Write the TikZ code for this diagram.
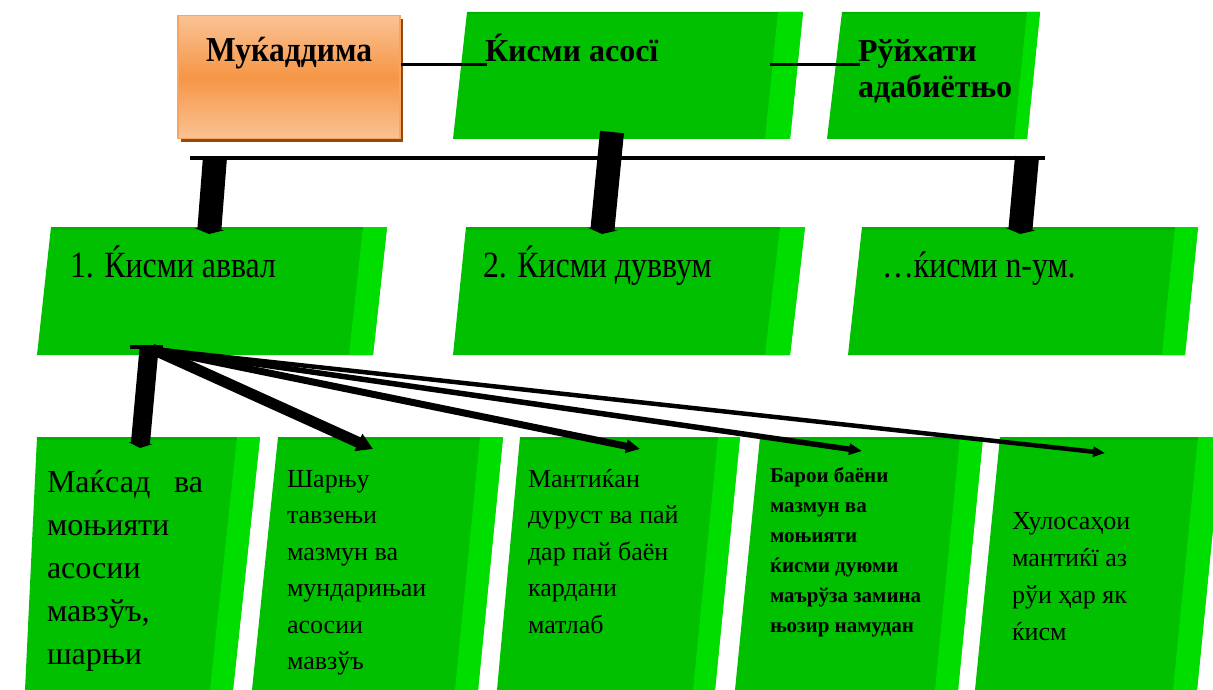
\documentclass[tikz,border=0pt]{standalone}
\usepackage{fontspec}
\setmainfont{Liberation Serif}
\newfontfamily\condfont[FakeStretch=0.86]{Liberation Serif}
\newfontfamily\condfontb[FakeStretch=0.9]{Liberation Serif}
\usetikzlibrary{arrows.meta}
\definecolor{boxgreen}{RGB}{0,192,0}
\definecolor{stripgreen}{RGB}{0,222,0}
\definecolor{topgreen}{RGB}{0,176,0}
\definecolor{orL}{RGB}{250,194,148}
\definecolor{orM}{RGB}{246,150,70}
\definecolor{orShadow}{RGB}{152,72,7}
\definecolor{orBorder}{RGB}{247,165,100}
\newcommand{\greenbox}[7]{%
  \fill[boxgreen] (#1,#5) -- (#2,#5) -- (#4,#6) -- (#3,#6) -- cycle;
  \fill[stripgreen] (#2-#7,#5) -- (#2,#5) -- (#4,#6) -- (#4-#7,#6) -- cycle;
  \fill[topgreen] (#1,#5) -- (#2-#7,#5) -- (#2-#7,#5+2.5) -- (#1,#5+2.5) -- cycle;
}
\begin{document}
\begin{tikzpicture}[x=1pt,y=-1pt,
  lbl/.style={inner sep=0pt, outer sep=0pt, anchor=base west, align=left},
  topfont/.style={font=\bfseries\fontsize{32}{36}\selectfont},
  midfont/.style={font=\condfont\fontsize{37}{40}\selectfont},
  hline/.style={line width=3pt},
  barline/.style={line width=4pt},
  drop/.style={line width=24pt, -{Triangle[length=5pt,width=30pt]}},
  fanA/.style={line width=19pt, -{Triangle[length=5pt,width=24pt]}},
  fanB/.style={line width=11pt, -{Triangle[length=16pt,width=18pt]}},
  fanC/.style={line width=7pt, -{Triangle[length=14pt,width=13pt]}},
  fanD/.style={line width=5.5pt, -{Triangle[length=13pt,width=11pt]}},
  fanE/.style={line width=4.5pt, -{Triangle[length=12pt,width=10pt]}}]
\useasboundingbox (0,0) rectangle (1213,690);
\begin{scope}
\clip (0,0) rectangle (1213,690);
% top row
\greenbox{467}{803}{453}{790}{12}{139}{25}
\greenbox{842}{1040}{827}{1027}{12}{139}{13}
% middle row
\greenbox{51}{387}{37}{373}{227}{355}{24}
\greenbox{466}{805}{453}{790}{227}{355}{25}
\greenbox{862}{1198}{848}{1185}{227}{355}{23}
% bottom row
\greenbox{37}{260}{25}{233}{437}{690}{23}
\greenbox{278}{503}{252}{478}{437}{690}{23}
\greenbox{520}{740}{497}{715}{437}{690}{22}
\greenbox{760}{983}{735}{958}{437}{690}{23}
\greenbox{1000}{1222}{975}{1197}{437}{690}{24}
\end{scope}
% orange box
\fill[orShadow] (181,19) rectangle (403,142);
\node[draw=orBorder, line width=1.5pt, shading=axis, top color=orL, bottom color=orL, middle color=orM,
  minimum width=222pt, minimum height=123pt, inner sep=0pt, anchor=north west] (muk) at (177,15) {};
% coordinates for connectors
\coordinate (c1b) at (487,65);
\coordinate (c2a) at (770,65);
\coordinate (c2b) at (860,65);
\coordinate (barL) at (190,158);
\coordinate (barR) at (1045,158);
\coordinate (d1a) at (215,157); \coordinate (d1b) at (209,234);
\coordinate (d2a) at (612,132); \coordinate (d2b) at (602,234);
\coordinate (d3a) at (1027,157); \coordinate (d3b) at (1020,234);
\coordinate (fo) at (152,349);
\coordinate (foL) at (130,347); \coordinate (foR) at (163,347);
\coordinate (fA1) at (149,349); \coordinate (fA) at (140,448);
\coordinate (fB) at (373,449);
\coordinate (fC) at (640,449);
\coordinate (fD) at (862,451);
\coordinate (fE) at (1105,453);
% connectors
\draw[hline] (muk.east |- c1b) -- (c1b);
\draw[hline] (c2a) -- (c2b);
\draw[barline] (barL) -- (barR);
\draw[drop] (d1a) -- (d1b);
\draw[drop] (d2a) -- (d2b);
\draw[drop] (d3a) -- (d3b);
\draw[line width=4pt] (foL) -- (foR);
\draw[fanA] (fA1) -- (fA);
\draw[fanB] (fo) -- (fB);
\draw[fanC] (fo) -- (fC);
\draw[fanD] (fo) -- (fD);
\draw[fanE] (fo) -- (fE);
% texts
\node[font=\condfontb\bfseries\fontsize{35}{38}\selectfont, inner sep=0pt, anchor=base] (mukt) at (289,62) {Муќаддима};
\node[lbl, topfont] (kasos) at (485,62) {Ќисми асосї};
\node[lbl, topfont] (ruy) at (858,98) {Рўйхати\\адабиётњо};
\node[lbl, midfont] (k1) at (70,277) {1. Ќисми аввал};
\node[lbl, midfont] (k2) at (483,277) {2. Ќисми дуввум};
\node[lbl, midfont] (kn) at (882,277) {…ќисми n-ум.};
\node[lbl, font=\fontsize{32}{43}\selectfont] (ta) at (47,664)
  {\makebox[156pt][s]{Маќсад ва}\\моњияти\\асосии\\мавзўъ,\\шарњи};
\node[lbl, font=\fontsize{26}{36.5}\selectfont] (tb) at (287,669.5)
  {Шарњу\\тавзењи\\мазмун ва\\мундарињаи\\асосии\\мавзўъ};
\node[lbl, font=\fontsize{26}{36.5}\selectfont] (tc) at (528,633)
  {Мантиќан\\дуруст ва пай\\дар пай баён\\кардани\\матлаб};
\node[lbl, font=\bfseries\fontsize{21}{30}\selectfont] (td) at (770,632)
  {Барои баёни\\мазмун ва\\моњияти\\ќисми дуюми\\маърўза замина\\њозир намудан};
\node[lbl, font=\fontsize{26}{36.7}\selectfont] (te) at (1012,640)
  {Хулосаҳои\\мантиќї аз\\рўи ҳар як\\ќисм};
\end{tikzpicture}
\end{document}
